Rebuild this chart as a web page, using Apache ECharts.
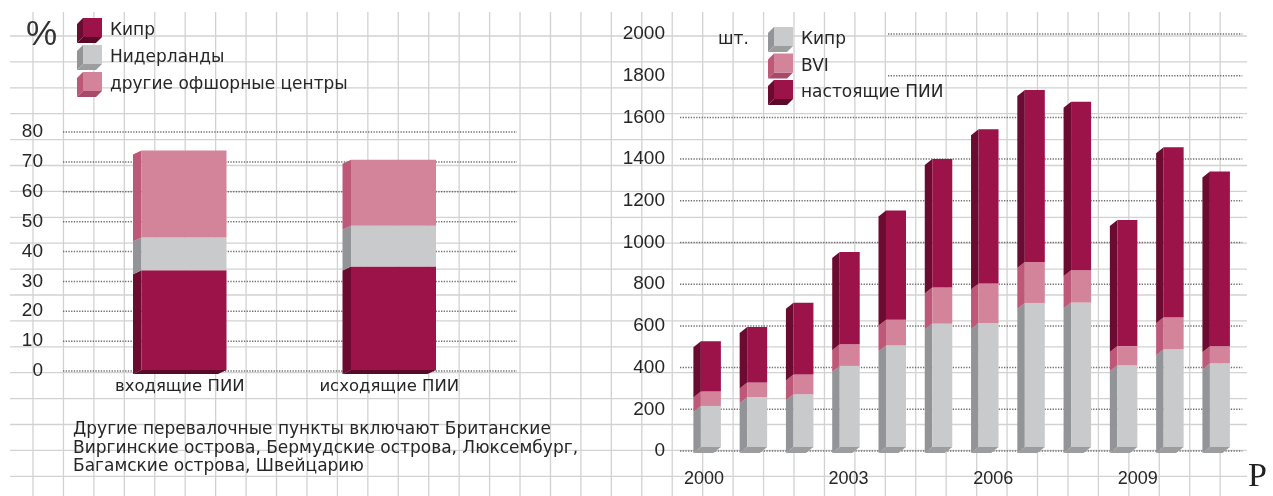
<!DOCTYPE html>
<html>
<head>
<meta charset="utf-8">
<script src="https://cdn.jsdelivr.net/npm/echarts@6/dist/echarts.min.js"></script>
<style>
  html, body { margin: 0; padding: 0; background: #ffffff; }
  #chart { width: 1273px; height: 496px; }
</style>
</head>
<body>
<div id="chart"></div>
<script>
// Доля транзитных центров в ПИИ, %
const shareCategories = ['входящие ПИИ', 'исходящие ПИИ'];
const shareSeriesNames = ['Кипр', 'Нидерланды', 'другие офшорные центры'];
const shareCyprus = [33.7, 35.0];
const shareNetherlands = [11.0, 13.6];
const shareOtherOffshore = [29.1, 22.1];
const shareTicks = [0, 10, 20, 30, 40, 50, 60, 70, 80];

// Число проектов ПИИ по годам, шт.
const projectYears = ['2000', '2001', '2002', '2003', '2004', '2005', '2006', '2007', '2008', '2009', '2010', '2011'];
const projectSeriesNames = ['Кипр', 'BVI', 'настоящие ПИИ'];
const projectsCyprus = [216, 258, 272, 408, 506, 611, 614, 710, 712, 411, 488, 420];
const projectsBVI = [69, 71, 95, 104, 123, 173, 189, 197, 155, 92, 154, 82];
const projectsGenuine = [241, 266, 344, 442, 524, 617, 740, 825, 808, 605, 815, 838];
const projectTicks = [0, 200, 400, 600, 800, 1000, 1200, 1400, 1600, 1800, 2000];
const yearLabels = [2000, 2003, 2006, 2009];

const footnote = [
  'Другие перевалочные пункты включают Британские',
  'Виргинские острова, Бермудские острова, Люксембург,',
  'Багамские острова, Швейцарию'
];

const FONT = "'DejaVu Sans', 'Liberation Sans', sans-serif";
const NUM_FONT = "'Liberation Sans', Arial, sans-serif";
const INK = '#262626';

const palette = {
  maroon: { front: '#9b1349', side: '#6c0b31', bottom: '#5a0927' },
  pink:   { front: '#d3849b', side: '#bd5878', bottom: '#a8496a' },
  grey:   { front: '#c9cacc', side: '#929497', bottom: '#9c9d9f' }
};

// Turn value lists into [category, lower, upper] rows for stacking
function stackRows(seriesList) {
  const base = seriesList[0].map(() => 0);
  return seriesList.map(vals => vals.map((v, i) => {
    const lo = base[i];
    base[i] += v;
    return [i, lo, base[i]];
  }));
}

// One stacked segment of an extruded bar: front face, left side face, floor face
function prism(geom, colors) {
  return function (params, api) {
    const cat = api.value(0), lo = api.value(1), hi = api.value(2);
    const top = api.coord([cat, hi]);
    const bot = api.coord([cat, lo]);
    const dx = geom.dx, dy = geom.dy;
    const fx0 = top[0] - (geom.front - dx) / 2;
    const fx1 = fx0 + geom.front;
    const yT = top[1];
    const yB = lo === 0 ? bot[1] - geom.lift : bot[1];
    const children = [
      { type: 'polygon', shape: { points: [[fx0, yT], [fx0 - dx, yT + dy], [fx0 - dx, yB + dy], [fx0, yB]] },
        style: { fill: colors.side } },
      { type: 'rect', shape: { x: fx0, y: yT, width: geom.front, height: yB - yT },
        style: { fill: colors.front } }
    ];
    if (lo === 0) {
      children.push({ type: 'polygon',
        shape: { points: [[fx0, yB], [fx1, yB], [fx1 - dx, yB + dy], [fx0 - dx, yB + dy]] },
        style: { fill: colors.bottom } });
    }
    return { type: 'group', children };
  };
}

// Dotted value guides running across a panel
function guides(extL, extR, startAt) {
  return function (params, api) {
    const v = api.value(1);
    const cs = params.coordSys;
    const y = api.coord([0, v])[1];
    let x0 = cs.x - extL;
    const x1 = cs.x + cs.width + extR;
    const s = startAt ? startAt(v) : null;
    if (s != null) x0 = s;
    return { type: 'line', shape: { x1: x0, y1: y, x2: x1, y2: y },
      style: { stroke: '#6e6e6e', lineWidth: 1.5, lineDash: [1.3, 1.4] } };
  };
}

const shareRows = stackRows([shareCyprus, shareNetherlands, shareOtherOffshore]);
const projectRows = stackRows([projectsCyprus, projectsBVI, projectsGenuine]);
const shareColors = [palette.maroon, palette.grey, palette.pink];
const projectColors = [palette.grey, palette.pink, palette.maroon];

const shareGeom = { front: 85, dx: 8.5, dy: 4, lift: 1 };
const projectGeom = { front: 20, dx: 7.5, dy: 6, lift: 4 };

// Background squared paper
const paper = [];
for (let k = 0; k < 40; k++) {
  const x = 33 + k * 30.44;
  paper.push({ type: 'line', shape: { x1: x, y1: 12, x2: x, y2: 496 }, style: { stroke: '#d2d2d2', lineWidth: 1.3 }, z: -10, silent: true });
}
for (let k = 0; k < 18; k++) {
  const y = 36 + k * 25.9;
  paper.push({ type: 'line', shape: { x1: 10, y1: y, x2: 1247, y2: y }, style: { stroke: '#d2d2d2', lineWidth: 1.3 }, z: -10, silent: true });
}

// Cube-shaped legend key
function cubeKey(x, y, colors) {
  return [
    { type: 'polygon', shape: { points: [[x + 6, y], [x, y + 6], [x, y + 25], [x + 6, y + 19]] }, style: { fill: colors.side } },
    { type: 'polygon', shape: { points: [[x + 6, y + 19], [x + 25, y + 19], [x + 19, y + 25], [x, y + 25]] }, style: { fill: colors.bottom } },
    { type: 'rect', shape: { x: x + 6, y: y, width: 19, height: 19 }, style: { fill: colors.front } }
  ];
}

function legendBlock(x, y, names, colors, step) {
  const els = [];
  names.forEach((name, i) => {
    cubeKey(x, y + i * step, colors[i]).forEach(e => els.push(e));
    els.push({ type: 'text', x: x + 33, y: y + i * step + 13,
      style: { text: name, font: '17px ' + FONT, fill: INK, textVerticalAlign: 'middle' } });
  });
  return els;
}

const texts = [
  { type: 'text', x: 26, y: 35, style: { text: '%', font: '35px ' + NUM_FONT, fill: '#333', textVerticalAlign: 'middle' } },
  { type: 'text', x: 718, y: 40, style: { text: 'шт.', font: '17px ' + FONT, fill: INK, textVerticalAlign: 'middle' } },
  { type: 'text', x: 1248, y: 494, style: { text: 'Р', font: '34px "Liberation Serif", serif', fill: '#222', textVerticalAlign: 'bottom' } }
];
footnote.forEach((line, i) => {
  texts.push({ type: 'text', x: 73, y: 430 + i * 18.5,
    style: { text: line, font: '17px ' + FONT, fill: INK, textVerticalAlign: 'middle' } });
});

const option = {
  animation: false,
  backgroundColor: '#ffffff',
  graphic: [].concat(paper,
    legendBlock(77, 18, shareSeriesNames, shareColors, 27),
    legendBlock(768, 27, projectSeriesNames, projectColors, 26.5),
    texts),
  grid: [
    { left: 75, top: 132, width: 419, height: 239 },
    { left: 684, top: 34, width: 555.3, height: 417 }
  ],
  xAxis: [
    { type: 'category', gridIndex: 0, data: shareCategories,
      axisLine: { show: false }, axisTick: { show: false }, splitLine: { show: false },
      axisLabel: { margin: 7, fontSize: 16.5, fontFamily: FONT, color: INK } },
    { type: 'category', gridIndex: 1, data: projectYears, show: false },
    { type: 'value', gridIndex: 1, position: 'bottom', min: 1999.585, max: 2011.105,
      axisLine: { show: false }, axisTick: { show: false }, splitLine: { show: false },
      axisLabel: { customValues: yearLabels, formatter: v => String(Math.round(v)), margin: 19,
        fontSize: 18, fontFamily: NUM_FONT, color: INK } }
  ],
  yAxis: [
    { type: 'value', gridIndex: 0, min: 0, max: 80, interval: 10,
      axisLine: { show: false }, axisTick: { show: false }, splitLine: { show: false },
      axisLabel: { margin: 32, fontSize: 19, fontFamily: NUM_FONT, color: INK, formatter: v => String(v) } },
    { type: 'value', gridIndex: 1, min: 0, max: 2000, interval: 200,
      axisLine: { show: false }, axisTick: { show: false }, splitLine: { show: false },
      axisLabel: { margin: 19, fontSize: 19, fontFamily: NUM_FONT, color: INK, formatter: v => String(v) } }
  ],
  series: [
    { type: 'custom', name: 'guides-share', xAxisIndex: 0, yAxisIndex: 0, z: 1, silent: true,
      data: shareTicks.map(v => [0, v]), encode: { x: 0, y: 1 },
      renderItem: guides(12, 23) },
    { type: 'custom', name: 'guides-projects', xAxisIndex: 1, yAxisIndex: 1, z: 1, silent: true,
      data: projectTicks.map(v => [0, v]), encode: { x: 0, y: 1 },
      renderItem: guides(4, 3, v => (v >= 1800 ? 888 : null)) }
  ].concat(
    shareRows.map((rows, i) => ({
      type: 'custom', name: shareSeriesNames[i], xAxisIndex: 0, yAxisIndex: 0, z: 3,
      data: rows, encode: { x: 0, y: [1, 2] }, renderItem: prism(shareGeom, shareColors[i])
    })),
    projectRows.map((rows, i) => ({
      type: 'custom', name: projectSeriesNames[i], xAxisIndex: 1, yAxisIndex: 1, z: 3,
      data: rows, encode: { x: 0, y: [1, 2] }, renderItem: prism(projectGeom, projectColors[i])
    }))
  )
};

const chart = echarts.init(document.getElementById('chart'), null, { renderer: 'canvas' });
chart.setOption(option);
</script>
</body>
</html>
